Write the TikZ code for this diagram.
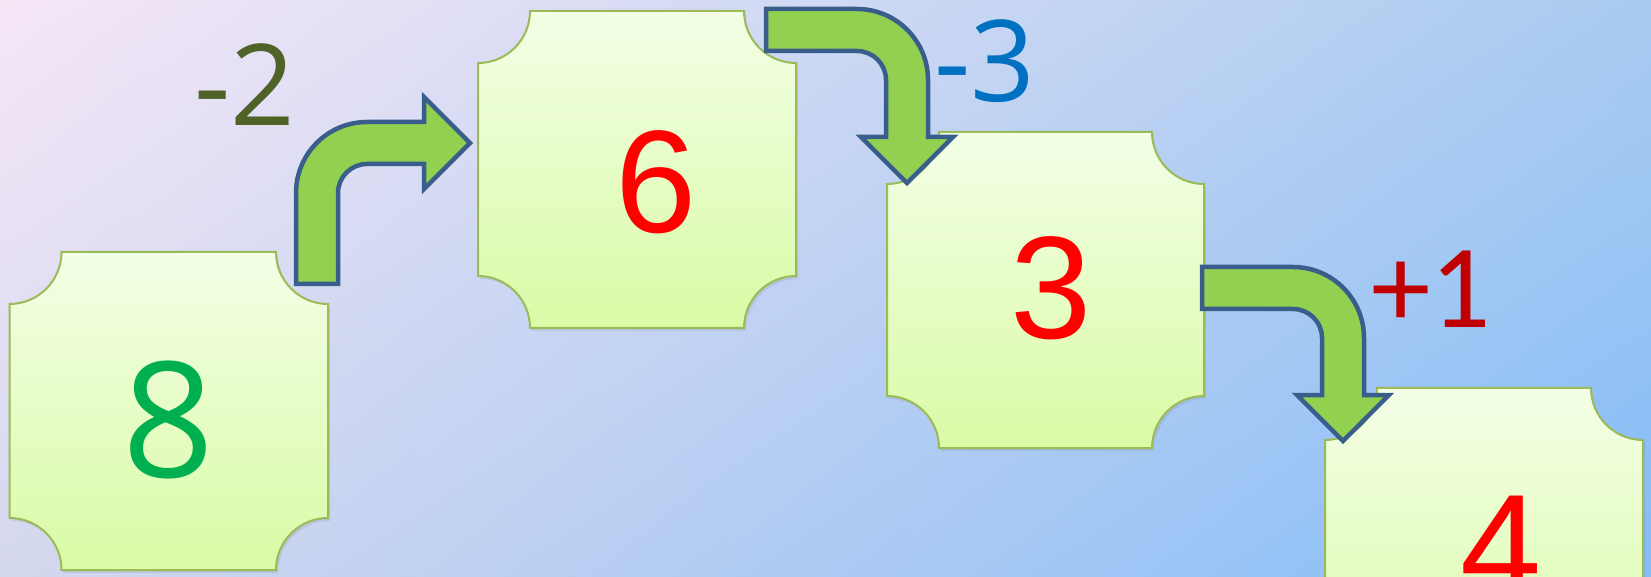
\documentclass[tikz,border=0pt]{standalone}
\usepackage{fontspec}
\setmainfont{Open Sans}
\newfontfamily\arialish{Liberation Sans}
\newfontfamily\calibrish{Carlito}
\usepackage{tikz}
\usetikzlibrary{shadows, shadings}

\definecolor{bgtl}{HTML}{F6E7F7}
\definecolor{bgtr}{HTML}{A9CBF0}
\definecolor{bgbl}{HTML}{D4D8EE}
\definecolor{bgbr}{HTML}{84BCF8}
\definecolor{cardtop}{HTML}{F3FEE6}
\definecolor{cardbot}{HTML}{DAFBA6}
\definecolor{cardedge}{HTML}{9BBB59}
\definecolor{arrowfill}{HTML}{92D050}
\definecolor{arrowedge}{HTML}{3A5E8C}
\definecolor{numgreen}{HTML}{00B050}
\definecolor{numred}{HTML}{FF0000}
\definecolor{stepolive}{HTML}{4F6228}
\definecolor{stepblue}{HTML}{0070C0}
\definecolor{stepred}{HTML}{C00000}

\tikzstyle{card} = [top color=cardtop, bottom color=cardbot, draw=cardedge,
    line width=2pt, drop shadow={opacity=0.18, shadow xshift=2pt, shadow yshift=-3pt}]
\tikzstyle{turn} = [fill=arrowfill, draw=arrowedge, line width=4.5pt, line join=miter]
\tikzstyle{num} = [anchor=base, inner sep=0pt]
\tikzstyle{rednum} = [anchor=base, inner sep=0pt, text=numred,
    font=\arialish\fontsize{146}{146}\selectfont]
\tikzstyle{delta} = [anchor=base, inner sep=0pt, font=\fontsize{113}{113}\selectfont]

% card with hollow corners: name, lower left x, y, width, height
\newcommand{\hollowcard}[5]{%
  \path[card] ({#2+52},{#3+#5}) -- ({#2+#4-52},{#3+#5})
      arc[start angle=180, end angle=270, radius=52pt] -- ({#2+#4},{#3+52})
      arc[start angle=90, end angle=180, radius=52pt] -- ({#2+52},#3)
      arc[start angle=0, end angle=90, radius=52pt] -- (#2,{#3+#5-52})
      arc[start angle=270, end angle=360, radius=52pt] -- cycle;
  \coordinate (#1) at ({#2+#4/2},{#3+#5/2});}

% bent block arrow: name of bend centre, x, y, rotation
\newcommand{\bentarrow}[4]{%
  \coordinate (#1) at (#2,#3);
  \begin{scope}[shift={(#1)}, rotate=#4]
    \draw[turn] (-91,71) -- (0,71) arc[start angle=90, end angle=0, radius=71pt]
      -- (71,-57) -- (96,-57) -- (50,-103) -- (4,-57) -- (29,-57) -- (29,0)
      arc[start angle=0, end angle=90, radius=29pt] -- (-91,29) -- cycle;
  \end{scope}}

\begin{document}
\begin{tikzpicture}[x=1pt, y=1pt]
  \useasboundingbox (0,0) rectangle (1651,576);
  \clip (0,0) rectangle (1651,576);
  \shade[upper left=bgtl, upper right=bgtr, lower left=bgbl, lower right=bgbr]
    (0,0) rectangle (1651,576);

  % Cards
  \hollowcard{c8}{9.5}{6}{318.5}{318}
  \hollowcard{c6}{478}{248}{318}{317}
  \hollowcard{c3}{887}{128}{317}{316}
  \hollowcard{c4}{1325}{-130}{318}{318}

  % Arrows
  \bentarrow{bendA}{367}{383}{90}
  \bentarrow{bendB}{857}{496}{0}
  \bentarrow{bendC}{1293}{238}{0}

  % Numbers
  \node[num, text=numgreen, font=\fontsize{161}{161}\selectfont] (eight) at (168.5,99) {8};
  \node[rednum] (six) at (656,343) {6};
  \node[rednum] (three) at (1051,237) {3};
  \node[rednum] (four) at (1501,-20) {4};

  % Steps
  \node[delta, text=stepolive] (minustwo) at (244.5,450) {-2};
  \node[delta, text=stepblue] (minusthree) at (985,474) {-3};
  \node[delta, text=stepred, font=\calibrish\fontsize{119}{119}\selectfont] (plusone) at (1431.5,248) {+1};
\end{tikzpicture}
\end{document}
